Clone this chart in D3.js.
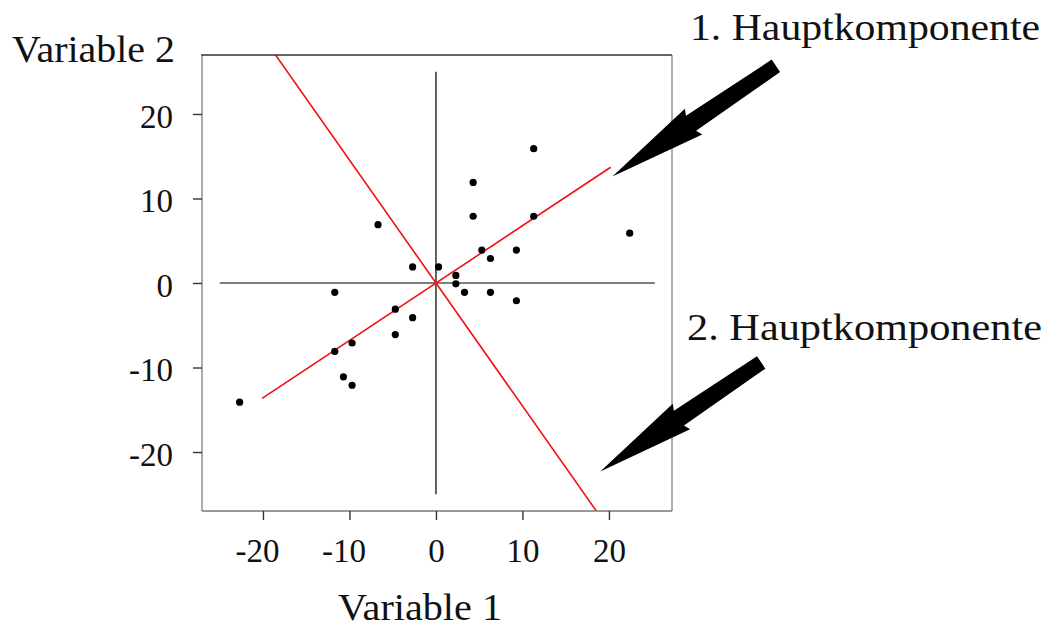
<!DOCTYPE html>
<html>
<head>
<meta charset="utf-8">
<script src="https://cdn.jsdelivr.net/npm/d3@7"></script>
<style>
  body { margin: 0; background: #fff; }
  text { font-family: "Liberation Serif", "Times New Roman", serif; fill: #111; }
</style>
</head>
<body>
<svg id="chart" width="1048" height="628"></svg>
<script>
// data
const var1 = [11.3, 4.3, 4.3, 11.3, -6.7, 22.4, 5.3, 9.3, 6.3, -2.7, 0.3, 2.3, 2.3,
  -11.7, 3.3, 6.3, 9.3, -4.7, -2.7, -4.7, -9.7, -11.7, -10.7, -9.7, -22.7]
const var2 = [15.9, 11.9, 7.9, 7.9, 6.9, 5.9, 3.9, 3.9, 2.9, 1.9, 1.9, 0.9, -0.1,
  -1.1, -1.1, -1.1, -2.1, -3.1, -4.1, -6.1, -7.1, -8.1, -11.1, -12.1, -14.1]

const pc1 = [[-20.1, -13.65], [20.2, 13.7]]
const pc2 = [[-20, 29.1], [20, -29.1]]

const xTicks = [-20, -10, 0, 10, 20]
const yTicks = [20, 10, 0, -10, -20]

const labels = ["1. Hauptkomponente", "2. Hauptkomponente"]
// arrows as [tail, tip] in data units
const arrows = [
  [[39.3, 25.7], [20.4, 12.6]],
  [[37.6, -9.4], [19.0, -22.3]]
]

const svg = d3.select("#chart")
const pLeft = 202, pRight = 672, pTop = 55, pBottom = 511

const x = d3.scaleLinear().domain([-27.05, 27.29]).range([pLeft, pRight])
const y = d3.scaleLinear().domain([-26.98, 26.98]).range([pBottom, pTop])

svg.append("clipPath").attr("id", "box")
  .append("rect")
  .attr("x", pLeft).attr("y", pTop)
  .attr("width", pRight - pLeft).attr("height", pBottom - pTop)

// crosshair
svg.append("line")
  .attr("x1", x(-25)).attr("x2", x(25.3))
  .attr("y1", y(0)).attr("y2", y(0))
  .attr("stroke", "#555").attr("stroke-width", 1.4)
svg.append("line")
  .attr("x1", x(0)).attr("x2", x(0))
  .attr("y1", y(-25)).attr("y2", y(25))
  .attr("stroke", "#111").attr("stroke-width", 1.3)

// principal component lines
const line = d3.line().x(d => x(d[0])).y(d => y(d[1]))
const g = svg.append("g").attr("clip-path", "url(#box)")
;[pc1, pc2].forEach(p => {
  g.append("path")
    .attr("d", line(p))
    .attr("fill", "none")
    .attr("stroke", "#f21010")
    .attr("stroke-width", 1.6)
})

// points
svg.selectAll("circle.pt")
  .data(var1.map((v, i) => [v, var2[i]]))
  .enter()
  .append("circle")
  .attr("class", "pt")
  .attr("cx", d => x(d[0]))
  .attr("cy", d => y(d[1]))
  .attr("r", 3.6)
  .attr("fill", "#000")

// frame
svg.append("line").attr("x1", pLeft).attr("x2", pLeft).attr("y1", pTop).attr("y2", pBottom)
  .attr("stroke", "#999").attr("stroke-width", 1.6)
svg.append("line").attr("x1", pRight).attr("x2", pRight).attr("y1", pTop).attr("y2", pBottom)
  .attr("stroke", "#999").attr("stroke-width", 1.6)
svg.append("line").attr("x1", pLeft).attr("x2", pRight).attr("y1", pBottom).attr("y2", pBottom)
  .attr("stroke", "#777").attr("stroke-width", 1.6)
svg.append("line").attr("x1", pLeft - 0.8).attr("x2", pRight).attr("y1", pTop).attr("y2", pTop)
  .attr("stroke", "#333").attr("stroke-width", 1.6)

// axes
const xAxis = svg.append("g")
  .attr("transform", `translate(0,${pBottom})`)
  .call(d3.axisBottom(x).tickValues(xTicks).tickSize(9).tickSizeOuter(0).tickFormat(d => String(d)))
const yAxis = svg.append("g")
  .attr("transform", `translate(${pLeft},0)`)
  .call(d3.axisLeft(y).tickValues(yTicks).tickSize(9).tickSizeOuter(0).tickFormat(d => String(d)))

;[xAxis, yAxis].forEach(a => {
  a.select(".domain").remove()
  a.selectAll(".tick line").attr("stroke", "#333").attr("stroke-width", 1.4)
  a.selectAll(".tick text")
    .style("font-family", '"Liberation Serif", serif')
    .style("font-size", "33px")
    .attr("fill", "#111")
})
xAxis.selectAll(".tick text").attr("y", 51).attr("dy", 0)
  .attr("dx", d => d < 0 ? -6 : 0)
yAxis.selectAll(".tick text").attr("x", -29).attr("dy", "0.4em")

// axis titles
svg.append("text")
  .attr("x", 12).attr("y", 62)
  .attr("textLength", 163).attr("lengthAdjust", "spacingAndGlyphs")
  .style("font-size", "38px")
  .text("Variable 2")
svg.append("text")
  .attr("x", 338).attr("y", 620)
  .attr("textLength", 164).attr("lengthAdjust", "spacingAndGlyphs")
  .style("font-size", "37px")
  .text("Variable 1")

// annotations
const labelPos = [[690, 40, 350], [687, 340, 355]]
labels.forEach((t, i) => {
  svg.append("text")
    .attr("x", labelPos[i][0]).attr("y", labelPos[i][1])
    .attr("textLength", labelPos[i][2]).attr("lengthAdjust", "spacingAndGlyphs")
    .style("font-size", "37px")
    .text(t)
})

function arrowPoints(tail, tip) {
  const x0 = x(tail[0]), y0 = y(tail[1]), x1 = x(tip[0]), y1 = y(tip[1])
  const dx = x1 - x0, dy = y1 - y0, len = Math.hypot(dx, dy)
  const ux = dx / len, uy = dy / len, nx = -uy, ny = ux
  const shaft = 7.5, neck = 9, head = 15.5, headLen = 98
  const bx = x1 - ux * headLen, by = y1 - uy * headLen
  const nkx = bx + ux * 3, nky = by + uy * 3
  return [
    [x0 + nx * shaft, y0 + ny * shaft],
    [nkx + nx * neck, nky + ny * neck],
    [bx + nx * head, by + ny * head],
    [x1, y1],
    [bx - nx * head, by - ny * head],
    [nkx - nx * neck, nky - ny * neck],
    [x0 - nx * shaft, y0 - ny * shaft]
  ]
}

svg.selectAll("polygon.arrow")
  .data(arrows)
  .enter()
  .append("polygon")
  .attr("class", "arrow")
  .attr("points", d => arrowPoints(d[0], d[1]).map(p => p.join(",")).join(" "))
  .attr("fill", "#000")
</script>
</body>
</html>
